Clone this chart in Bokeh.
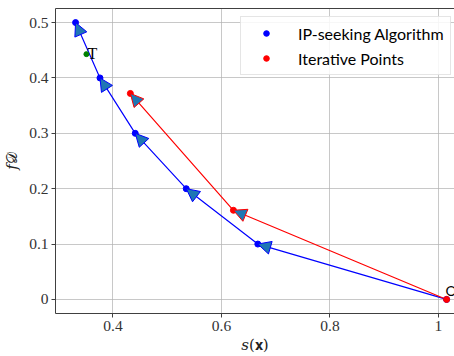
from bokeh.plotting import figure
from bokeh.models import (Range1d, FixedTicker, Arrow, NormalHead, ColumnDataSource,
                          Legend, LegendItem, LinearAxis)
from bokeh.core.properties import value
from bokeh.embed import file_html
from bokeh.resources import INLINE

# ---- data ----
ip_s = [0.331, 0.376, 0.441, 0.535, 0.667, 1.015]
ip_f = [0.500, 0.400, 0.300, 0.200, 0.100, 0.000]
it_s = [0.432, 0.622, 1.015]
it_f = [0.372, 0.161, 0.000]
target_s = [0.351]
target_f = [0.443]
target_label = ["T"]
origin_label = ["O"]
x_ticks = [0.4, 0.6, 0.8, 1.0]
y_ticks = [0.0, 0.1, 0.2, 0.3, 0.4, 0.5]

SERIF = "Liberation Serif"
MATH = "DejaVu Serif"
SANS = "Lato"

p = figure(width=454, height=356, output_backend="svg", toolbar_location=None,
           x_range=Range1d(0.294, 1.0296), y_range=Range1d(-0.0254, 0.5254),
           min_border_left=10, min_border_right=0, min_border_top=8, min_border_bottom=10,
           x_axis_label="𝑠(𝐱)", y_axis_label="𝑓𝒟")
p.outline_line_color = None
p.background_fill_color = "white"
p.border_fill_color = "white"

for ax in (p.xaxis[0], p.yaxis[0]):
    ax.axis_line_color = "#404040"
    ax.axis_line_width = 1
    ax.major_tick_line_color = "#404040"
    ax.major_tick_out = 4
    ax.major_tick_in = 0
    ax.minor_tick_line_color = None
    ax.major_label_text_font = SERIF
    ax.major_label_text_font_size = "15.5px"
    ax.major_label_text_color = "#333333"
    ax.axis_label_text_font = MATH
    ax.axis_label_text_font_size = "15px"
    ax.axis_label_text_font_style = "normal"
    ax.axis_label_text_color = "#222222"
p.xaxis.ticker = FixedTicker(ticks=x_ticks)
p.yaxis.ticker = FixedTicker(ticks=y_ticks)
p.xaxis.major_label_standoff = 3
p.yaxis.major_label_standoff = 3
p.xaxis.axis_label_standoff = 2
p.yaxis.axis_label_standoff = 5

top = LinearAxis(ticker=FixedTicker(ticks=[]), major_label_text_font_size="0px",
                 major_tick_out=0, major_tick_in=0, minor_tick_line_color=None,
                 axis_line_color="#404040", axis_line_width=1, major_label_standoff=0)
p.add_layout(top, "above")

p.grid.grid_line_color = "#b0b0b0"
p.grid.grid_line_alpha = 0.7
p.grid.grid_line_width = 1
p.xgrid.ticker = FixedTicker(ticks=x_ticks)
p.ygrid.ticker = FixedTicker(ticks=y_ticks)

# lines
p.line(ip_s, ip_f, line_color="blue", line_width=1.2)
p.line(it_s, it_f, line_color="red", line_width=1.2)

r_blue = p.scatter(ip_s, ip_f, size=6, color="blue")
r_red = p.scatter(it_s, it_f, size=6, color="red")
p.scatter(target_s, target_f, size=5, color="green")

# arrow heads (tip at each point, coming from the following point)
def arrows(xs, ys, edge):
    src = ColumnDataSource(dict(x0=xs[1:], y0=ys[1:], x1=xs[:-1], y1=ys[:-1]))
    a = Arrow(source=src, x_start="x0", y_start="y0", x_end="x1", y_end="y1",
              line_alpha=0.0,
              end=NormalHead(size=13, fill_color="#1f77b4", line_color=edge, line_width=1))
    p.add_layout(a)

arrows(ip_s, ip_f, "blue")
arrows(it_s, it_f, "red")

p.text(target_s, target_f, text=target_label, text_font=value(SERIF), text_font_size="16px",
       text_baseline="middle", text_align="left", x_offset=1, y_offset=-1, text_color="black")
p.text([ip_s[-1]], [ip_f[-1]], text=origin_label, text_font=value(SANS), text_font_size="14px",
       text_baseline="bottom", text_align="left", x_offset=-1, y_offset=0, text_color="black")

legend = Legend(items=[LegendItem(label="IP-seeking Algorithm", renderers=[r_blue]),
                       LegendItem(label="Iterative Points", renderers=[r_red])],
                location=(185, 238), orientation="vertical")
legend.label_text_font = SANS
legend.label_text_font_size = "16px"
legend.label_text_color = "black"
legend.padding = 6
legend.spacing = 5
legend.glyph_width = 38
legend.glyph_height = 14
legend.label_height = 20
legend.label_standoff = 13
legend.border_line_color = "#cccccc"
legend.border_line_width = 1
legend.background_fill_color = "white"
legend.background_fill_alpha = 0.85
legend.margin = 0
p.add_layout(legend, "center")

open("out.html", "w").write(file_html(p, INLINE))
